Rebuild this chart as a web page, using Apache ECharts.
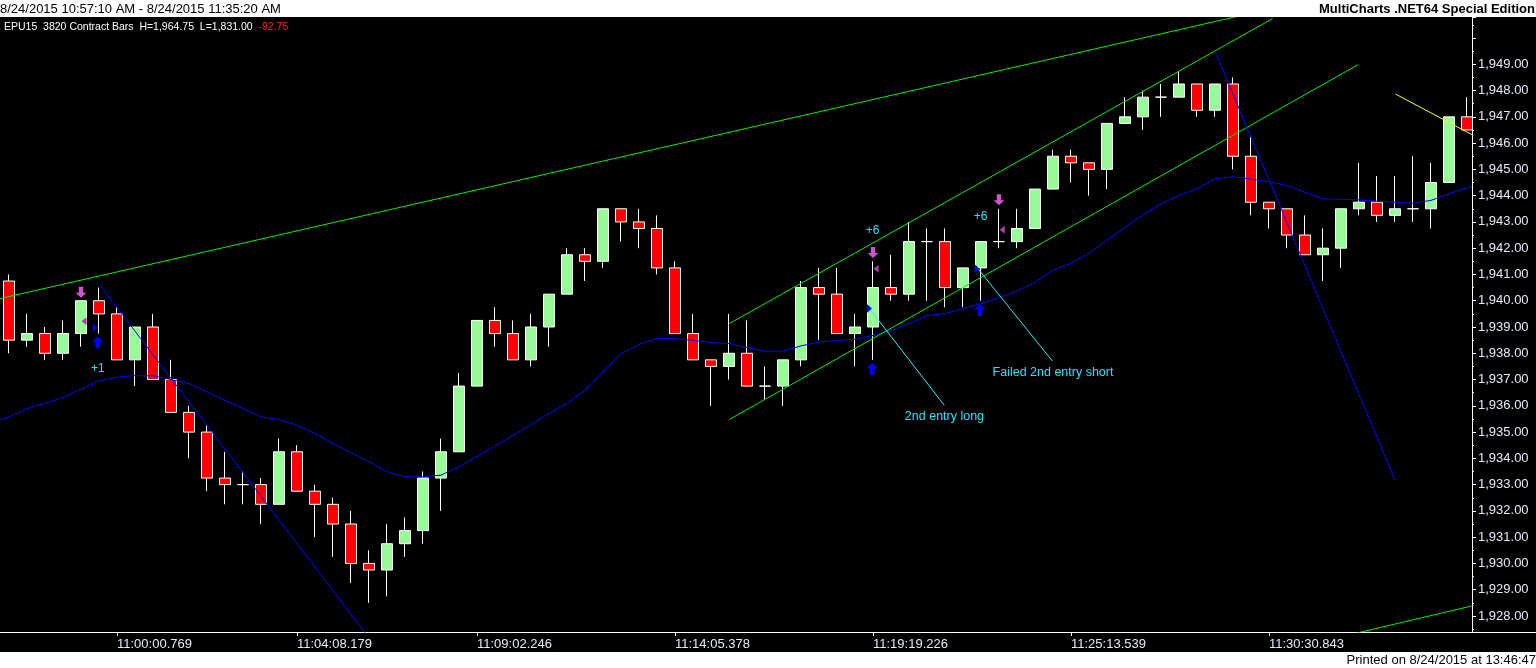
<!DOCTYPE html>
<html>
<head>
<meta charset="utf-8">
<script src="https://cdn.jsdelivr.net/npm/echarts@6/dist/echarts.min.js"></script>
<style>
html,body{margin:0;padding:0;background:#000;}
#c{width:1536px;height:668px;}
</style>
</head>
<body>
<div id="c"></div>
<script>
// ---- data ----
const opens  = [1940.75,1938.5,1938.75,1938,1938.75,1940,1939.5,1937.75,1939,1937,1935.75,1935,1933.25,1933,1933,1932.25,1934.25,1932.75,1932.25,1931.5,1930,1929.75,1930.75,1931.25,1933.25,1934.25,1936.75,1939.25,1938.75,1937.75,1939,1940.25,1941.75,1941.5,1943.5,1943,1942.75,1941.25,1938.75,1937.75,1937.5,1938,1936.75,1936.75,1937.75,1940.5,1940.25,1938.75,1939,1940.5,1940.25,1942.25,1942.25,1940.5,1941.25,1942.25,1942.25,1942.75,1944.25,1945.5,1945.25,1945,1946.75,1947,1947.75,1947.75,1948.25,1947.25,1948.25,1945.5,1943.75,1943.5,1942.5,1941.75,1942,1943.5,1943.75,1943.25,1943.5,1943.5,1944.5,1947];
const closes = [1938.5,1938.75,1938,1938.75,1940,1939.5,1937.75,1939,1937,1935.75,1935,1933.25,1933,1933,1932.25,1934.25,1932.75,1932.25,1931.5,1930,1929.75,1930.75,1931.25,1933.25,1934.25,1936.75,1939.25,1938.75,1937.75,1939,1940.25,1941.75,1941.5,1943.5,1943,1942.75,1941.25,1938.75,1937.75,1937.5,1938,1936.75,1936.75,1937.75,1940.5,1940.25,1938.75,1939,1940.5,1940.25,1942.25,1942.25,1940.5,1941.25,1942.25,1942.25,1942.75,1944.25,1945.5,1945.25,1945,1946.75,1947,1947.75,1947.75,1948.25,1947.25,1948.25,1945.5,1943.75,1943.5,1942.5,1941.75,1942,1943.5,1943.75,1943.25,1943.5,1943.5,1944.5,1947,1946.5];
const lows   = [1938,1938.25,1937.75,1937.75,1938.25,1938.75,1937.75,1936.75,1937,1935.75,1934,1932.75,1932.25,1932.25,1931.5,1932.25,1932.75,1931,1930.25,1929.25,1928.5,1928.75,1930.25,1930.75,1932,1934.25,1936.75,1938.25,1937.75,1937.5,1938.25,1940.25,1940.75,1941.25,1942.25,1942,1941,1938.75,1937.75,1936,1937,1936.75,1936.25,1936,1937.5,1938.5,1938.75,1937.5,1937.75,1940,1940,1940,1939.75,1939.75,1940,1942,1942,1942.75,1944.25,1944.5,1944,1944.25,1946.75,1946.5,1947,1947.75,1947,1947,1945,1943.25,1942.75,1942,1941.75,1940.75,1941.25,1943.25,1943,1943,1943,1942.75,1944.5,1946.5];
const highs  = [1941,1939.5,1939,1939.25,1940,1940.5,1939.75,1939,1939.5,1937.75,1936,1935.25,1934.25,1933.5,1933.25,1934.75,1934.5,1933,1932.5,1932,1930.5,1931.5,1931.75,1933.5,1934.75,1937.25,1939.25,1939.75,1939.25,1939.5,1940.25,1942,1942,1943.5,1943.5,1943.5,1943.25,1941.5,1939.5,1937.75,1939.5,1939.25,1937.5,1937.75,1940.75,1941.25,1941.25,1939.5,1941.5,1941.75,1943,1942.75,1942.75,1941.25,1942.25,1943.5,1943.5,1944.25,1945.75,1945.75,1945.25,1946.75,1947.75,1948,1948.25,1948.75,1948.25,1948.25,1948.5,1946.25,1943.75,1943.5,1943.25,1942.75,1943.5,1945.25,1944.75,1944.75,1945.5,1945.25,1947,1947.75];
const movingAvg = [1935.57,1935.90,1936.10,1936.31,1936.63,1936.95,1937.09,1937.15,1937.14,1937.00,1936.85,1936.53,1936.21,1935.90,1935.58,1935.48,1935.26,1934.95,1934.57,1934.21,1933.87,1933.49,1933.30,1933.30,1933.36,1933.68,1934.08,1934.46,1934.88,1935.28,1935.71,1936.09,1936.59,1937.29,1937.99,1938.34,1938.56,1938.56,1938.49,1938.41,1938.37,1938.22,1938.08,1938.08,1938.28,1938.43,1938.49,1938.53,1938.68,1938.85,1939.13,1939.44,1939.51,1939.70,1939.89,1940.12,1940.37,1940.71,1941.16,1941.43,1941.81,1942.30,1942.80,1943.27,1943.69,1944.01,1944.26,1944.64,1944.72,1944.63,1944.53,1944.39,1944.13,1943.88,1943.86,1943.84,1943.79,1943.75,1943.71,1943.82,1944.07,1944.30];
const maEdges = [[-0.5,1935.48],[81.28,1944.36]];

const tickIndex = [6,16,26,37,48,59,70];
const tickText  = ['11:00:00.769','11:04:08.179','11:09:02.246','11:14:05.378','11:19:19.226','11:25:13.539','11:30:30.843'];

// drawn trend lines: [barIndex, price] end points
const greenLines = [
  [[-0.5,1940.08],[69,1950.94]],
  [[40.02,1939.13],[70.2,1950.74]],
  [[40.02,1935.48],[74.96,1948.99]],
  [[74.5,1927.29],[81.26,1928.38]]
];
const blueLines = [
  [[5.02,1940.62],[20.5,1926.72]],
  [[67.0,1949.49],[77.0,1933.17]]
];
const yellowLine = [[77.02,1947.87],[81.28,1946.32]];
const cyanLines = [
  [[47.74,1939.76],[51.96,1936.02]],
  [[53.76,1941.28],[57.96,1937.71]]
];
const noteText = ['2nd entry long','Failed 2nd entry short'];
const notePos  = [[51.97,1935.58],[58.0,1937.27]];

const buyArrows   = [[4.93,1938.42],[47.96,1937.41],[53.94,1939.65]];
const sellArrows  = [[4.0,1940.32],[48.0,1941.84],[55.0,1943.84]];
const entryMarks  = [[4.79,1938.98],[47.8,1939.70],[53.78,1941.22]];
const exitMarks   = [[4.17,1939.22],[48.17,1941.22],[55.18,1942.70]];
const profitText  = ['+1','+6','+6'];
const profitPos   = [[4.94,1937.42],[47.98,1942.65],[53.98,1943.20]];

const yMin = 1927.39, yMax = 1950.8;
const yLabelTop = 1949;

// ---- build ----
const cats = opens.map((_, i) => String(i));
const ohlc = opens.map((o, i) => [o, closes[i], lows[i], highs[i]]);
const maData = [maEdges[0]].concat(movingAvg.map((v, i) => [i, v]), [maEdges[1]]);

const FONT = 'Liberation Sans, Arial, sans-serif';
const AXC = '#e6eaf6';

function fmtPrice(v) {
  if (Math.abs(v - Math.round(v)) > 1e-6) return '';
  if (v > yLabelTop + 0.5) return '';
  return String(Math.round(v)).replace(/\B(?=(\d{3})+(?!\d))/g, ',') + '.00';
}

function lineSeries(data, color) {
  return {
    type: 'line', xAxisIndex: 1, yAxisIndex: 0, data: data,
    showSymbol: false, symbol: 'none', silent: true,
    lineStyle: { color: color, width: 1 }, z: 3, clip: true
  };
}

const series = [
  {
    type: 'candlestick', xAxisIndex: 0, yAxisIndex: 0, data: ohlc,
    barWidth: 12, z: 2,
    itemStyle: { color: '#98fb98', color0: '#ff0000', borderColor: '#ffffff', borderColor0: '#ffffff', borderWidth: 1 }
  },
  lineSeries(maData, '#0000ff')
];
greenLines.forEach(l => series.push(lineSeries(l, '#00ee00')));
blueLines.forEach(l => series.push(lineSeries(l, '#0000ff')));
series.push(lineSeries(yellowLine, '#ffff00'));
cyanLines.forEach(l => series.push(lineSeries(l, '#33eeff')));

const upArrow = 'path://M5,0 L10,5 L7,5 L7,11 L3,11 L3,5 L0,5 Z';
const downArrow = 'path://M3,0 L7,0 L7,6 L10,6 L5,11 L0,6 L3,6 Z';
function scat(data, symbol, size, color) {
  return { type: 'scatter', xAxisIndex: 1, yAxisIndex: 0, data: data, symbol: symbol,
    symbolSize: size, itemStyle: { color: color, opacity: 1 }, z: 5, silent: true };
}
series.push(scat(buyArrows, upArrow, [11, 12], '#0000ff'));
series.push(scat(sellArrows, downArrow, [11, 11], '#cc55cc'));
series.push(scat(entryMarks, 'path://M0,0 L5,4.5 L0,9 Z', [5, 9], '#0000ff'));
series.push(scat(exitMarks, 'path://M5,0 L0,4 L5,8 Z', [5, 8], '#b03cb0'));

function textSeries(texts, pos, color, size) {
  return {
    type: 'scatter', xAxisIndex: 1, yAxisIndex: 0, symbol: 'rect', symbolSize: 1, z: 6, silent: true,
    itemStyle: { color: 'rgba(0,0,0,0)' },
    data: texts.map((t, i) => ({ name: t, value: pos[i] })),
    label: { show: true, position: 'inside', formatter: '{b}', color: color,
      fontFamily: FONT, fontSize: size, opacity: 1 }
  };
}
series.push(textSeries(profitText, profitPos, '#22e4ff', 12));
series.push(textSeries(noteText, notePos, '#22e4ff', 12.5));

const chart = echarts.init(document.getElementById('c'), null, { renderer: 'canvas' });
chart.setOption({
  animation: false,
  backgroundColor: '#000000',
  grid: { left: 0, right: 60, top: 17, bottom: 36, containLabel: false },
  xAxis: [
    {
      type: 'category', data: cats, boundaryGap: true, position: 'bottom',
      axisLine: { show: true, onZero: false, lineStyle: { color: '#ffffff', width: 1 } },
      axisTick: { show: true, alignWithLabel: true, length: 4, lineStyle: { color: '#ffffff' },
        interval: (i) => tickIndex.indexOf(i) >= 0 },
      axisLabel: { show: true, color: AXC, fontFamily: FONT, fontSize: 13, align: 'left', margin: 6,
        interval: (i) => tickIndex.indexOf(i) >= 0,
        formatter: (v, i) => { const k = tickIndex.indexOf(i); return k >= 0 ? tickText[k] : ''; } },
      splitLine: { show: false }
    },
    { type: 'value', min: -0.5, max: 81.5, show: false, gridIndex: 0,
      axisLine: { onZero: false }, splitLine: { show: false } }
  ],
  yAxis: [{
    type: 'value', position: 'right', offset: -4, min: yMin, max: yMax,
    minInterval: 1, maxInterval: 1, splitNumber: 23, scale: true,
    axisLine: { show: true, onZero: false, lineStyle: { color: '#ffffff', width: 1 } },
    axisTick: { show: true, inside: false, length: 4, lineStyle: { color: '#ffffff' } },
    minorTick: { show: true, splitNumber: 2, length: 2, lineStyle: { color: '#ffffff' } },
    axisLabel: { color: AXC, fontFamily: FONT, fontSize: 13, margin: 6, formatter: fmtPrice },
    splitLine: { show: false }, minorSplitLine: { show: false }
  }],
  series: series,
  graphic: [
    { type: 'rect', shape: { x: 0, y: 0, width: 1536, height: 17 }, style: { fill: '#ffffff' }, z: 100, silent: true },
    { type: 'text', x: 0, y: 9, z: 101, silent: true,
      style: { text: '8/24/2015 10:57:10 AM - 8/24/2015 11:35:20 AM', fill: '#000000', font: '13px ' + FONT, textVerticalAlign: 'middle', verticalAlign: 'middle' } },
    { type: 'text', x: 1535, y: 9, z: 101, silent: true,
      style: { text: 'MultiCharts .NET64 Special Edition', fill: '#000000', font: 'bold 13px ' + FONT, textAlign: 'right', align: 'right', textVerticalAlign: 'middle', verticalAlign: 'middle' } },
    { type: 'rect', shape: { x: 0, y: 652, width: 1536, height: 16 }, style: { fill: '#ffffff' }, z: 100, silent: true },
    { type: 'text', x: 1536, y: 660, z: 101, silent: true,
      style: { text: 'Printed on 8/24/2015 at 13:46:47', fill: '#000000', font: '13px ' + FONT, textAlign: 'right', align: 'right', textVerticalAlign: 'middle', verticalAlign: 'middle' } },
    { type: 'line', shape: { x1: 1476, y1: 632.5, x2: 1536, y2: 632.5 }, style: { stroke: '#ffffff', lineWidth: 1 }, z: 50, silent: true },
    { type: 'text', x: 4, y: 27, z: 101, silent: true,
      style: { text: '{w|EPU15  3820 Contract Bars  H=1,964.75  L=1,831.00}  {r|-92.75}',
        rich: { w: { fill: '#ffffff', font: '10.5px ' + FONT, color: '#ffffff', fontSize: 10.5, fontFamily: FONT },
                r: { fill: '#ff2020', font: '10.5px ' + FONT, color: '#ff2020', fontSize: 10.5, fontFamily: FONT } },
        font: '10.5px ' + FONT, textVerticalAlign: 'middle', verticalAlign: 'middle' } }
  ]
});
</script>
</body>
</html>
